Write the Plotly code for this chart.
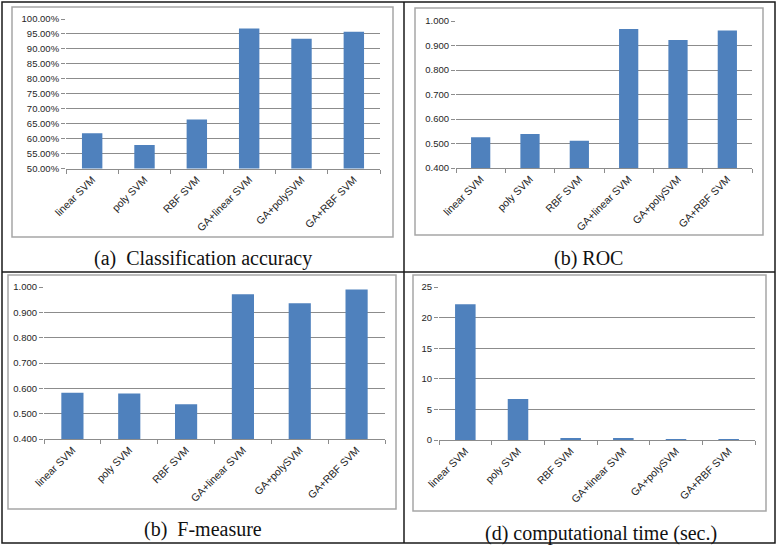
import plotly.graph_objects as go

W, H = 779, 546

categories = ["linear SVM", "poly SVM", "RBF SVM", "GA+linear SVM", "GA+polySVM", "GA+RBF SVM"]
accuracy = [0.618, 0.579, 0.664, 0.968, 0.934, 0.957]
roc = [0.526, 0.539, 0.511, 0.967, 0.922, 0.961]
fmeasure = [0.583, 0.580, 0.537, 0.971, 0.936, 0.990]
comp_time = [22.2, 6.7, 0.3, 0.3, 0.1, 0.1]

captions = ["(a)\u00a0\u00a0Classification accuracy", "(b) ROC",
            "(b)\u00a0\u00a0F-measure", "(d) computational time (sec.)"]

BAR = "#4F81BD"
GRID = "#8c8c8c"
XFONT = dict(family="Liberation Sans, Arial, sans-serif", size=10.5, color="#262626")
YFONT = dict(family="Liberation Sans, Arial, sans-serif", size=9.5, color="#262626")

def px_x(p):
    return p / W

def px_y(p):
    return 1 - p / H

# panel geometry in pixels: (left, right, top, bottom)
plots = [
    (66, 380, 19, 168.5),
    (456, 752, 21, 168),
    (44, 385, 287, 439),
    (439, 755, 287, 440),
]
yaxes_cfg = [
    dict(range=[0.5, 1.0], dtick=0.05, tickformat=".2%"),
    dict(range=[0.4, 1.0], dtick=0.1, tickformat=".3f"),
    dict(range=[0.4, 1.0], dtick=0.1, tickformat=".3f"),
    dict(range=[0, 25], dtick=5, tickformat="d"),
]
series = [accuracy, roc, fmeasure, comp_time]

fig = go.Figure()
layout = dict(width=W, height=H, margin=dict(l=0, r=0, t=0, b=0), autosize=False,
              paper_bgcolor="white", plot_bgcolor="white", showlegend=False)

for i, (vals, (l, r, t, b), ycfg) in enumerate(zip(series, plots, yaxes_cfg)):
    n = "" if i == 0 else str(i + 1)
    fig.add_trace(go.Bar(x=categories, y=vals, marker=dict(color=BAR, line=dict(width=0)),
                         width=0.39, xaxis="x" + n, yaxis="y" + n, hoverinfo="x+y"))
    layout["xaxis" + n] = dict(domain=[px_x(l), px_x(r)], anchor="y" + n, type="category",
                               tickangle=-45, tickfont=XFONT, showline=True, linecolor=GRID,
                               linewidth=1, ticks="outside", tickson="boundaries", ticklen=4,
                               tickcolor=GRID, showgrid=False, fixedrange=True,
                               automargin=False)
    layout["yaxis" + n] = dict(domain=[px_y(b), px_y(t)], anchor="x" + n, tickfont=YFONT,
                               showgrid=True, gridcolor=GRID, gridwidth=1, ticks="outside",
                               ticklen=4, tickcolor=GRID, showline=False, zeroline=False,
                               fixedrange=True, automargin=False, **ycfg)

fig.update_layout(**layout)

shapes = []
# inner chart boxes (pixels: x0, x1, y0, y1)
boxes = [(12, 393, 7, 237), (415, 763, 8, 235), (8, 396, 275, 509), (413, 766, 275, 511)]
for (x0, x1, y0, y1) in boxes:
    shapes.append(dict(type="rect", xref="paper", yref="paper", x0=px_x(x0), x1=px_x(x1),
                       y0=px_y(y1), y1=px_y(y0), line=dict(color="#a6a6a6", width=1.5)))
# outer frame and dividers
shapes.append(dict(type="rect", xref="paper", yref="paper", x0=px_x(2), x1=px_x(775),
                   y0=px_y(543), y1=px_y(2), line=dict(color="#1a1a1a", width=1.5)))
shapes.append(dict(type="line", xref="paper", yref="paper", x0=px_x(404), x1=px_x(404),
                   y0=px_y(543), y1=px_y(2), line=dict(color="#1a1a1a", width=1.5)))
shapes.append(dict(type="line", xref="paper", yref="paper", x0=px_x(2), x1=px_x(775),
                   y0=px_y(272), y1=px_y(272), line=dict(color="#1a1a1a", width=1.5)))
fig.update_layout(shapes=shapes)

cap_pos = [(203, 258), (588, 258), (203, 529), (601, 533)]
for txt, (cx, cy) in zip(captions, cap_pos):
    fig.add_annotation(text=txt, x=px_x(cx), y=px_y(cy), xref="paper", yref="paper",
                       showarrow=False, xanchor="center", yanchor="middle",
                       font=dict(family="Liberation Serif, Times New Roman, serif", size=20,
                                 color="#111111"))

fig.write_html("out.html", config={"displayModeBar": False},
               post_script="document.body.style.margin='0';document.body.style.padding='0';"
                           "document.body.style.overflow='hidden';")
